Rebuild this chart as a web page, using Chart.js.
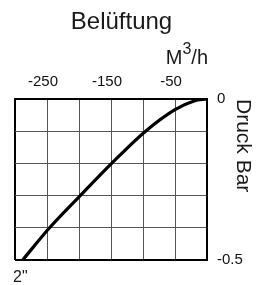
<!DOCTYPE html>
<html>
<head>
<meta charset="utf-8">
<script src="https://cdn.jsdelivr.net/npm/chart.js@4/dist/chart.umd.min.js"></script>
<style>
html,body{margin:0;padding:0;background:#fff;}
canvas{display:block;}
</style>
</head>
<body>
<canvas id="c" width="268" height="285"></canvas>
<script>
// ---- data ----
const chartTitle = 'Belüftung';
const xUnitParts = ['M', '3', '/h'];
const yTitle = 'Druck Bar';
const sizeLabel = '2"';
const flow = [-288, -246, -198, -149, -96, -50, -20, 0];
const pressure = [-0.5, -0.4, -0.3, -0.2, -0.1, -0.033, -0.006, 0];
const xTickLabels = [-250, -150, -50];
const yTickLabels = [0, -0.5];
const xRange = [-300, 0];
const yRange = [-0.5, 0];
const xStep = 50;
const yStep = 0.1;

const FONT = '"Liberation Sans", Arial, Helvetica, sans-serif';
const near = (a, b) => Math.abs(a - b) < 1e-6;

const textPlugin = {
  id: 'texts',
  afterDraw(chart) {
    const ctx = chart.ctx;
    const area = chart.chartArea;
    ctx.save();
    ctx.fillStyle = '#1a1a1a';
    // main title
    ctx.font = '24px ' + FONT;
    ctx.textAlign = 'center';
    ctx.textBaseline = 'alphabetic';
    ctx.fillText(chartTitle, 121.5, 28.5);
    // unit with superscript, right aligned to plot
    ctx.textAlign = 'left';
    ctx.font = '20px ' + FONT;
    const wM = ctx.measureText(xUnitParts[0]).width;
    const wH = ctx.measureText(xUnitParts[2]).width;
    ctx.font = '16px ' + FONT;
    const w3 = ctx.measureText(xUnitParts[1]).width;
    let x = area.right + 1 - (wM + w3 + wH);
    ctx.font = '20px ' + FONT;
    ctx.fillText(xUnitParts[0], x, 63.5);
    x += wM;
    ctx.font = '16px ' + FONT;
    ctx.fillText(xUnitParts[1], x, 53.5);
    x += w3;
    ctx.font = '20px ' + FONT;
    ctx.fillText(xUnitParts[2], x, 63.5);
    // size label
    ctx.font = '16px ' + FONT;
    ctx.fillText(sizeLabel, 13, 282);
    ctx.restore();
  }
};

const gridColor = (edgeVal) => (c) => (c.tick && near(c.tick.value, edgeVal)) ? '#000' : '#555';
const gridWidth = (edgeVal) => (c) => (c.tick && near(c.tick.value, edgeVal)) ? 2 : 1;

new Chart(document.getElementById('c'), {
  type: 'line',
  data: {
    datasets: [{
      data: flow.map((v, i) => ({ x: v, y: pressure[i] })),
      borderColor: '#000',
      borderWidth: 3.2,
      pointRadius: 0,
      fill: false,
      cubicInterpolationMode: 'monotone'
    }]
  },
  options: {
    responsive: false,
    animation: false,
    devicePixelRatio: 1,
    layout: { padding: { left: 15, top: 0, right: 0, bottom: 25 } },
    plugins: { legend: { display: false }, tooltip: { enabled: false }, title: { display: false } },
    scales: {
      x: {
        type: 'linear',
        position: 'top',
        min: xRange[0],
        max: xRange[1],
        afterFit: (s) => { s.height = 99; },
        ticks: {
          stepSize: xStep,
          autoSkip: false,
          maxRotation: 0,
          padding: 8,
          labelOffset: -4,
          color: '#111',
          font: { family: FONT, size: 15 },
          callback: (v) => xTickLabels.some(t => near(t, v)) ? String(v) : ''
        },
        grid: { drawTicks: false, color: gridColor(xRange[0]), lineWidth: gridWidth(xRange[0]) },
        border: { color: '#000', width: 2 }
      },
      y: {
        type: 'linear',
        position: 'right',
        min: yRange[0],
        max: yRange[1],
        afterFit: (s) => { s.width = 61; },
        ticks: {
          stepSize: yStep,
          autoSkip: false,
          padding: 10,
          color: '#111',
          font: { family: FONT, size: 15 },
          callback: (v) => { const t = yTickLabels.find(t => near(t, v)); return t === undefined ? '' : String(t); }
        },
        title: {
          display: true,
          text: yTitle,
          align: 'end',
          color: '#1a1a1a',
          font: { family: FONT, size: 21 },
          padding: { top: 13, bottom: 0 }
        },
        grid: { drawTicks: false, color: gridColor(yRange[0]), lineWidth: gridWidth(yRange[0]) },
        border: { color: '#000', width: 2 }
      }
    }
  },
  plugins: [textPlugin]
});
</script>
</body>
</html>
